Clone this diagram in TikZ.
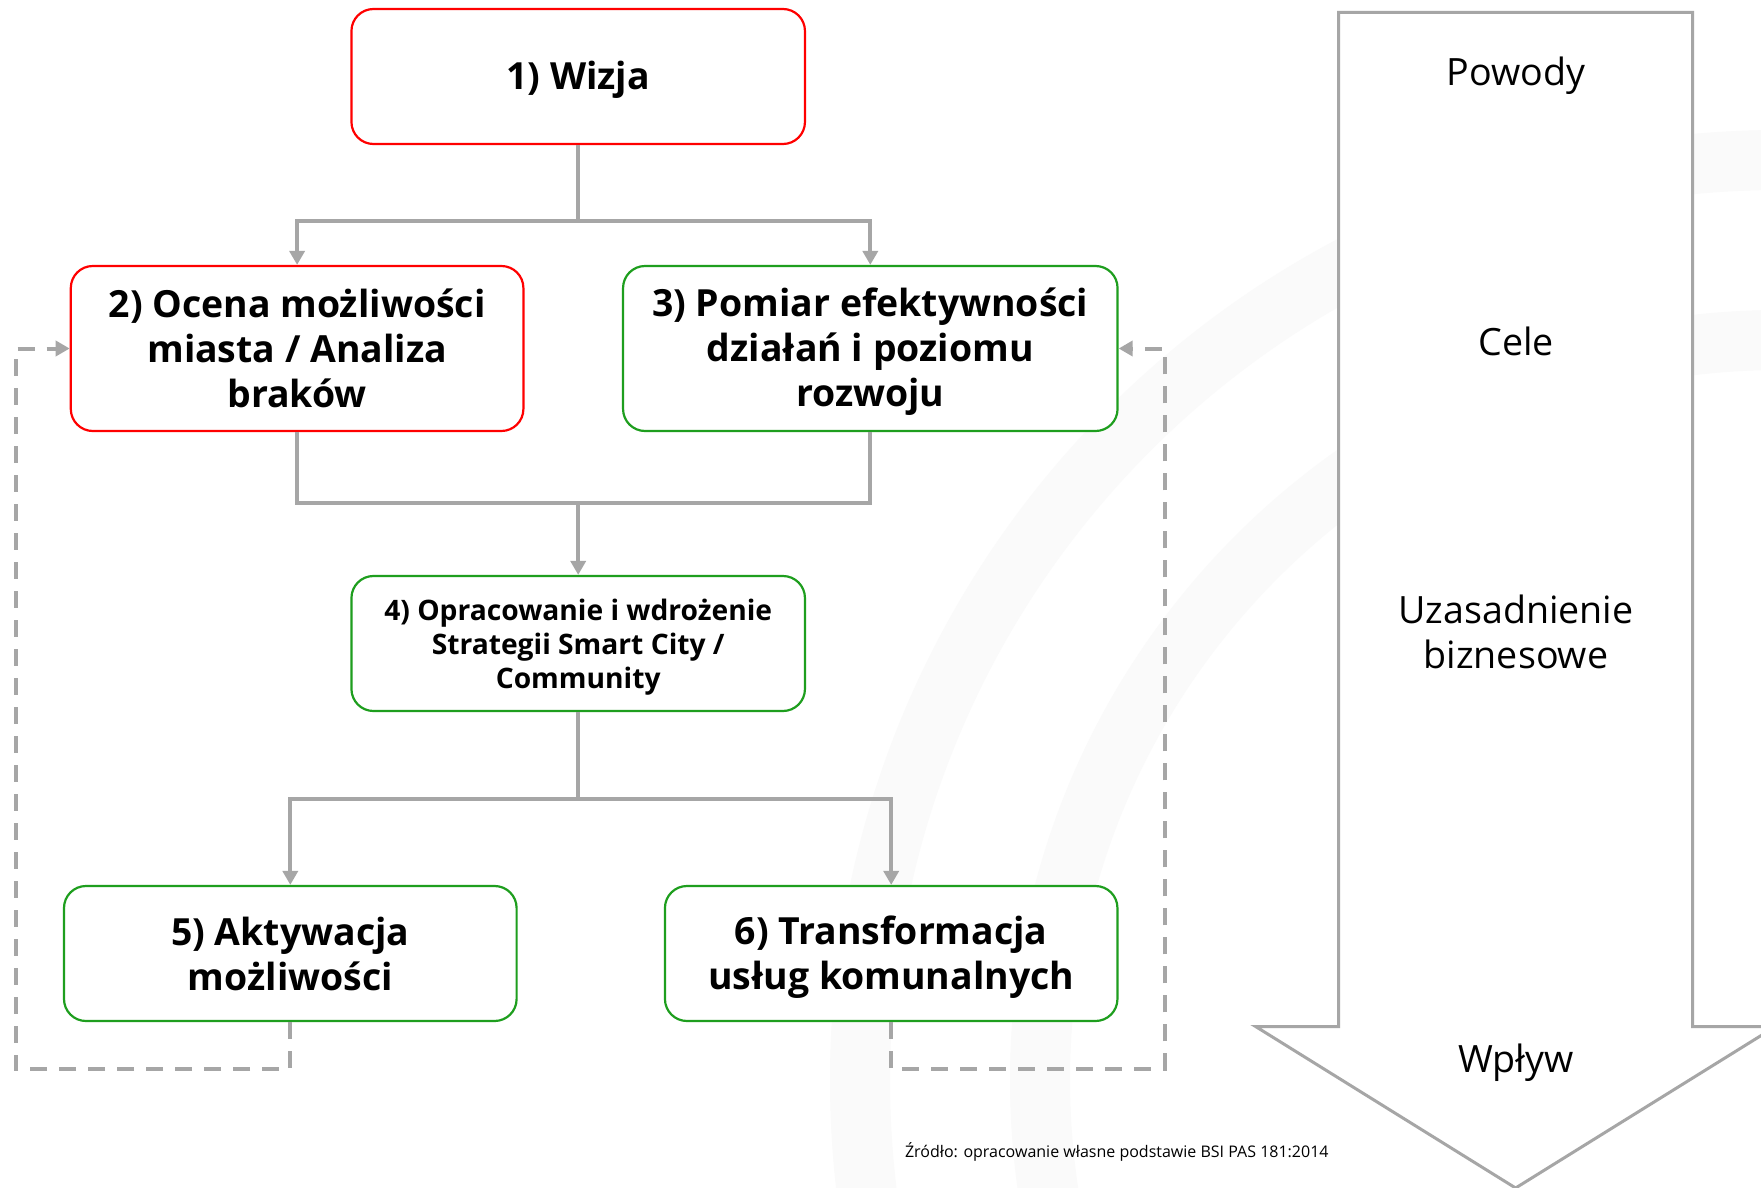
\documentclass[tikz,border=0pt]{standalone}
\usepackage{fontspec}
\setmainfont{Open Sans}
\usetikzlibrary{arrows.meta}
\definecolor{lgray}{HTML}{A6A6A6}
\definecolor{bred}{HTML}{FF0000}
\definecolor{bgreen}{HTML}{1E9E1E}
\definecolor{wm}{HTML}{FAFAFA}
\begin{document}
\begin{tikzpicture}[x=0.5pt,y=-0.5pt,
  box/.style={draw,line width=1.1pt,rounded corners=11pt,fill=white,align=center,
    font=\bfseries\fontsize{18.7}{22.5}\selectfont,inner sep=0pt,text=black},
  smallbox/.style={box,font=\bfseries\fontsize{14.1}{16.9}\selectfont},
  boxtext/.style={box,draw=none,fill=none},
  redbox/.style={draw=bred},
  greenbox/.style={draw=bgreen},
  conn/.style={draw=lgray,line width=2pt,-{Triangle[width=7.5pt,length=7pt]}},
  plain/.style={draw=lgray,line width=2pt},
  fb/.style={draw=lgray,line width=2pt,dash pattern=on 8.5pt off 6pt,-{Triangle[width=7.5pt,length=7pt]}},
  atext/.style={font=\fontsize{18.8}{22.5}\selectfont,align=center,text=black},
]
\useasboundingbox (0,0) rectangle (1761,1188);
\begin{scope}
\clip (0,0) rectangle (1761,1188);
\fill[white] (0,0) rectangle (1761,1188);
\draw[wm,line width=30pt] (1780,1080) circle[radius=920];
\draw[wm,line width=30pt] (1780,1080) circle[radius=740];
\end{scope}

% big arrow
\draw[lgray,line width=1.5pt,fill=white,line join=miter]
  (1338.7,12.4) -- (1692.5,12.4) -- (1692.5,1026.5) -- (1775.6,1026.5)
  -- (1515.6,1188) -- (1255.6,1026.5) -- (1338.7,1026.5) -- cycle;
\node[atext] (t1) at (1516,75.5) {Powody};
\node[atext] (t2) at (1516,341) {Cele};
\node[atext] (t3) at (1516,632) {Uzasadnienie\\biznesowe};
\node[atext] (t4) at (1516,1062.5) {Wpływ};

% boxes
\node[box,redbox,minimum width=226.75pt,minimum height=67.5pt] (b1) at (578.2,76.5) {};
\node[box,redbox,minimum width=226.3pt,minimum height=82.5pt] (b2) at (297.1,348.5) {2) Ocena możliwości\\miasta / Analiza\\braków};
\node[box,greenbox,minimum width=247.25pt,minimum height=82.5pt] (b3) at (870.3,348.5) {};
\node[box,greenbox,minimum width=226.75pt,minimum height=67.5pt] (b4) at (578.2,643.5) {};
\node[box,greenbox,minimum width=226.3pt,minimum height=67.5pt] (b5) at (290.3,953.5) {5) Aktywacja\\możliwości};
\node[box,greenbox,minimum width=226.25pt,minimum height=67.5pt] (b6) at (891.2,953.5) {};
% texts of boxes whose glyph depths shift the centering
\node[boxtext] (l1) at (578.2,80) {1) Wizja};
\node[boxtext] (l3) at (870.3,352) {3) Pomiar efektywności\\działań i poziomu\\rozwoju};
\node[boxtext,font=\bfseries\fontsize{14.1}{16.9}\selectfont] (l4) at (578.2,647) {4) Opracowanie i wdrożenie\\Strategii Smart City /\\Community};
\node[boxtext] (l6) at (891.2,957) {6) Transformacja\\usług komunalnych};

% junctions
\coordinate (j1) at (578.2,220.5);
\coordinate (j2) at (578.2,503);
\coordinate (j3) at (578.2,798.5);
\coordinate (dl) at (15.7,1069);
\coordinate (dr) at (1164.7,1069);

\draw[plain] (b1.south) -- (j1);
\draw[conn] (j1) -| (b2.north);
\draw[conn] (j1) -| (b3.north);
\draw[plain] (b2.south) |- (j2);
\draw[plain] (b3.south) |- (j2);
\draw[conn] (j2) -- (b4.north);
\draw[plain] (b4.south) -- (j3);
\draw[conn] (j3) -| (b5.north);
\draw[conn] (j3) -| (b6.north);

% feedback
\draw[fb] (b5.south) |- (dl) |- (b2.west);
\draw[fb] (b6.south) |- (dr) |- (b3.east);

\node[anchor=west,font=\fontsize{8}{10}\selectfont,text=black] (src) at (898,1152) {Źródło: opracowanie własne podstawie BSI PAS 181:2014};
\end{tikzpicture}
\end{document}
